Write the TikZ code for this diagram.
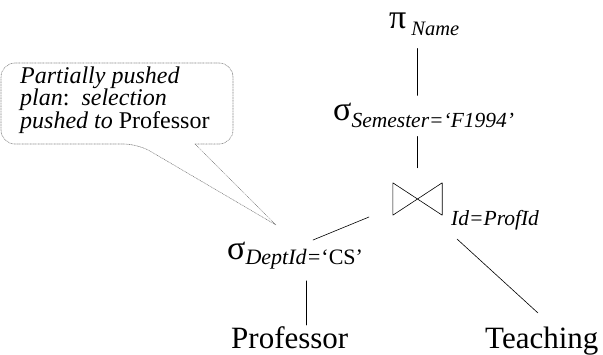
\documentclass[tikz,border=0pt]{standalone}
\usepackage{fontspec}
\setmainfont{LiberationSerif}[Extension=.ttf, UprightFont=*-Regular, ItalicFont=*-Italic, BoldFont=*-Bold, BoldItalicFont=*-BoldItalic]
\newcommand{\opsym}{\fontsize{34}{34}\selectfont}
\newcommand{\subsc}[1]{\raisebox{-7pt}{\fontsize{21.5}{21.5}\selectfont\itshape #1}}
\tikzset{
  op/.style={inner sep=0pt, anchor=base west},
  rel/.style={inner sep=0pt, anchor=base west, font=\fontsize{31}{31}\selectfont},
  edge/.style={line width=0.6pt},
  note/.style={densely dotted, gray, line width=0.6pt}
}
\begin{document}
\begin{tikzpicture}[x=1pt, y=-1pt, line join=round, line cap=round]
  \useasboundingbox (0,0) rectangle (603,354);
  % operators
  \node[op] (proj) at (389,28) {\opsym π\hspace{5pt}\raisebox{-7pt}{\fontsize{20.5}{20.5}\selectfont\itshape Name}};
  \node[op] (selsem) at (333,120) {\opsym σ\subsc{Semester=‘F1994’}};
  \node[inner sep=0pt, minimum width=49pt, minimum height=32pt] (join) at (417.5,199) {};
  \draw[edge] (join.north west) -- (join.south east) -- (join.north east) -- (join.south west) -- cycle;
  \node[op] (joincond) at (451,225) {\fontsize{21.5}{21.5}\selectfont\itshape Id=ProfId};
  \node[op] (seldept) at (227,259) {\opsym σ\raisebox{-5pt}{\fontsize{22}{22}\selectfont\itshape DeptId=\upshape‘CS’}};
  % relations
  \node[rel] (prof) at (231,348) {Professor};
  \node[rel] (teach) at (485,348) {Teaching};
  % edges
  \draw[edge, shorten <=13pt, shorten >=7pt] (join |- proj.south) -- (join |- selsem.north);
  \draw[edge, shorten <=9pt, shorten >=15pt] (join |- selsem.south) -- (join.north);
  \draw[edge] (369,217) -- (313,240);
  \draw[edge] (457,239) -- (538,313);
  \draw[edge, shorten <=12pt, shorten >=1pt] ([xshift=17pt]prof.north |- seldept.south) -- ([xshift=17pt]prof.north);
  % callout
  \node[inner sep=0pt, anchor=base west, align=left, font=\fontsize{24}{20}\selectfont\itshape] (callout) at (20,128)
    {Partially pushed\\[-0.5pt]plan\textup{:}\hspace{12pt}selection\\[-0.5pt]pushed to \textup{Professor}};
  \draw[note] (195,144) [rounded corners=14pt] -- (233,144) -- (233,63) -- (1,63) -- (1,144) -- (138,144) [sharp corners] -- (276,225) -- (195,144);
\end{tikzpicture}
\end{document}
